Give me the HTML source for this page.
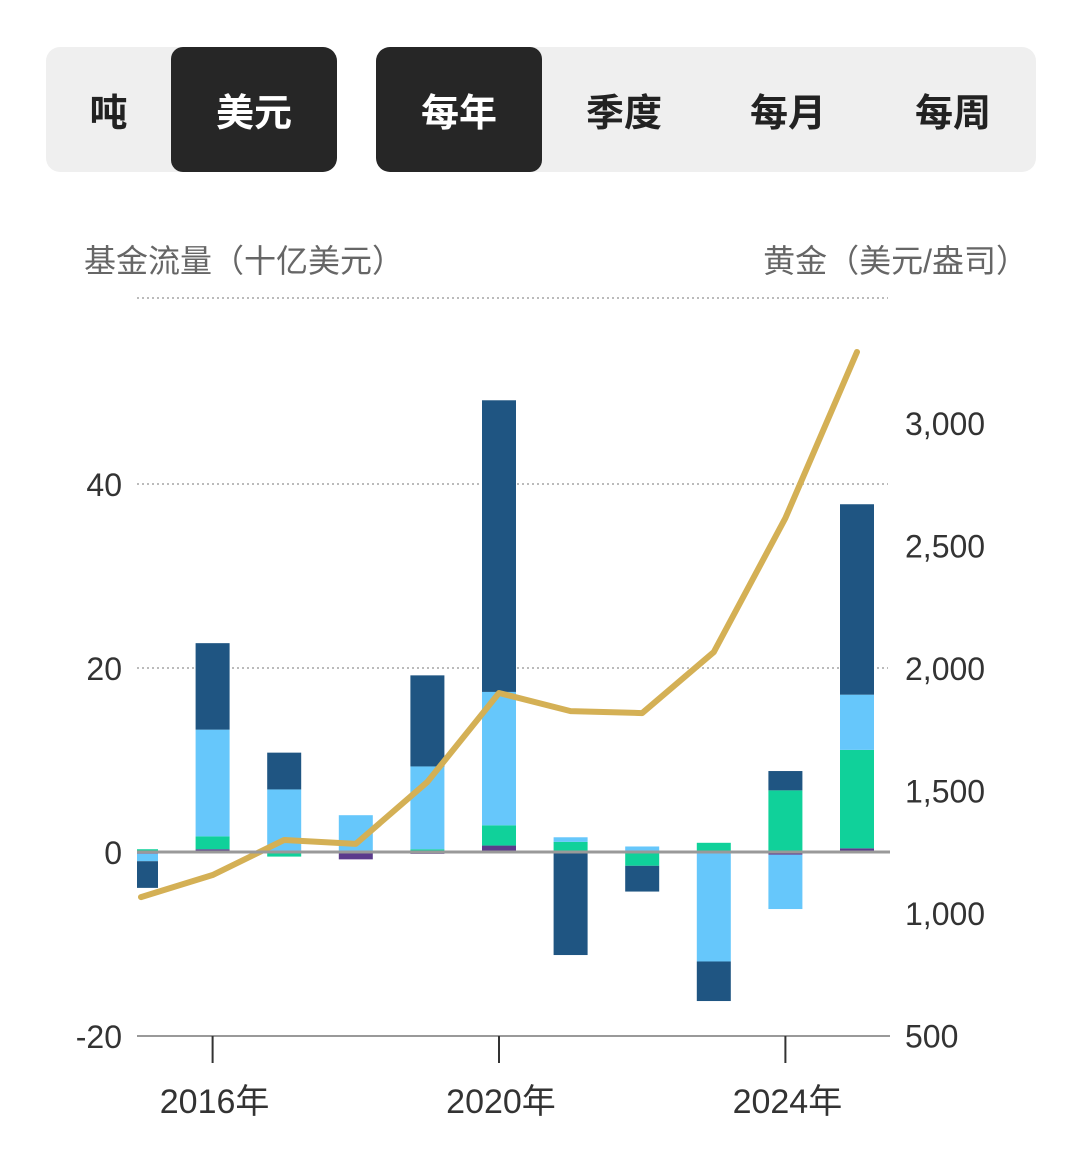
<!DOCTYPE html>
<html><head><meta charset="utf-8">
<style>
body{margin:0;background:#fff;width:1080px;height:1153px;overflow:hidden;font-family:"Liberation Sans","Noto Sans CJK SC",sans-serif}
.seg{position:absolute;top:47px;height:125px;background:#efefef;border-radius:14px;display:flex;overflow:hidden}
.seg div{display:flex;align-items:center;justify-content:center;font-size:38px;font-weight:bold;color:#222}
.seg .on{background:#262626;color:#fff;border-radius:12px}
</style></head><body>
<div class="seg" style="left:46px;width:291px">
<div style="width:125px">吨</div>
<div class="on" style="width:166px">美元</div>
</div>
<div class="seg" style="left:376px;width:660px">
<div class="on" style="width:166px">每年</div>
<div style="width:164px">季度</div>
<div style="width:164px">每月</div>
<div style="width:166px">每周</div>
</div>
<svg id="c" width="1080" height="1153" style="position:absolute;left:0;top:0">
<text x="84" y="272" font-size="32" fill="#666">基金流量（十亿美元）</text>
<text x="1028" y="272" font-size="32" fill="#666" text-anchor="end">黄金（美元/盎司）</text>
<line x1="137" x2="888" y1="298" y2="298" stroke="#bbb" stroke-width="2" stroke-dasharray="2,3"/>
</svg>
<script>
const years=[2015,2016,2017,2018,2019,2020,2021,2022,2023,2024,2025];
const purple=[-0.2,0.3,0,-0.8,-0.2,0.7,0,0,0,-0.3,0.4];
const green=[0.3,1.4,-0.5,0,0.3,2.2,1.1,-1.5,1.0,6.7,10.7];
const lightBlue=[-0.8,11.6,6.8,4.0,9.0,14.5,0.5,0.6,-11.9,-5.9,6.0];
const darkBlue=[-2.9,9.4,4.0,0,9.9,31.7,-11.2,-2.8,-4.3,2.1,20.7];
const gold=[1065,1155,1298,1282,1535,1898,1824,1816,2065,2612,3290];
const leftTicks=[40,20,0,-20];
const rightTicks=[3000,2500,2000,1500,1000,500];
const xTicks=[2016,2020,2024];
const svg=document.getElementById('c');const NS='http://www.w3.org/2000/svg';
const X=y=>141+(y-2015)*71.6;
const YL=v=>852-v*9.2;
const YR=p=>913-(p-1000)*0.245;
function mk(t,a,p){const e=document.createElementNS(NS,t);for(const k in a)e.setAttribute(k,a[k]);(p||svg).appendChild(e);return e;}
const defs=mk('defs',{});const cp=mk('clipPath',{id:'pc'},defs);mk('rect',{x:137,y:300,width:760,height:760},cp);
leftTicks.forEach(v=>{
 const t=mk('text',{x:122,y:YL(v)+12,'font-size':32,fill:'#333','text-anchor':'end'});t.textContent=v===-20?'-20':v;
 
 if(v>0){const l=mk('line',{x1:137,x2:888,y1:YL(v),y2:YL(v),stroke:'#bbb','stroke-width':2,'stroke-dasharray':'2,3'});
 }
});
rightTicks.forEach(p=>{const t=mk('text',{x:905,y:YR(p)+12,'font-size':32,fill:'#333'});t.textContent=p.toLocaleString('en-US');
 });
const base=mk('line',{x1:137,x2:890,y1:YL(-20),y2:YL(-20),stroke:'#999','stroke-width':2});

xTicks.forEach(y=>{const l=mk('line',{x1:X(y),x2:X(y),y1:YL(-20),y2:1063,stroke:'#333','stroke-width':2});
 
 const t=mk('text',{x:X(y)+2,y:1113,'font-size':34,fill:'#333','text-anchor':'middle'});t.textContent=y+'年';
 });
const g=mk('g',{'clip-path':'url(#pc)'});
const series=[[purple,'#5b3b8c','purple'],[green,'#10d19a','green'],[lightBlue,'#66c7fb','light-blue'],[darkBlue,'#1f5582','dark-blue']];
years.forEach((yr,i)=>{
 let pos=0,neg=0;const bars=[];
 series.forEach(([arr,col,nm])=>{const v=arr[i];if(!v)return;let a,b;
  if(v>0){a=pos;b=pos+v;pos=b;}else{a=neg;b=neg+v;neg=b;}
  bars.push([a,b,col,nm]);});
 bars.forEach(([a,b,col,nm])=>{const r=mk('rect',{x:X(yr)-17,y:Math.min(YL(a),YL(b)),width:34,height:Math.abs(YL(a)-YL(b)),fill:col},g);
  });
 // rounded caps
 [[pos,1],[neg,-1]].forEach(([v])=>{});
});
const z=mk('line',{x1:137,x2:890,y1:YL(0),y2:YL(0),stroke:'#999','stroke-width':3});

const pl=mk('polyline',{points:years.map((y,i)=>X(y)+','+YR(gold[i])).join(' '),fill:'none',stroke:'#d4b055','stroke-width':6,'stroke-linejoin':'round','stroke-linecap':'round'},g);

</script>
</body></html>
